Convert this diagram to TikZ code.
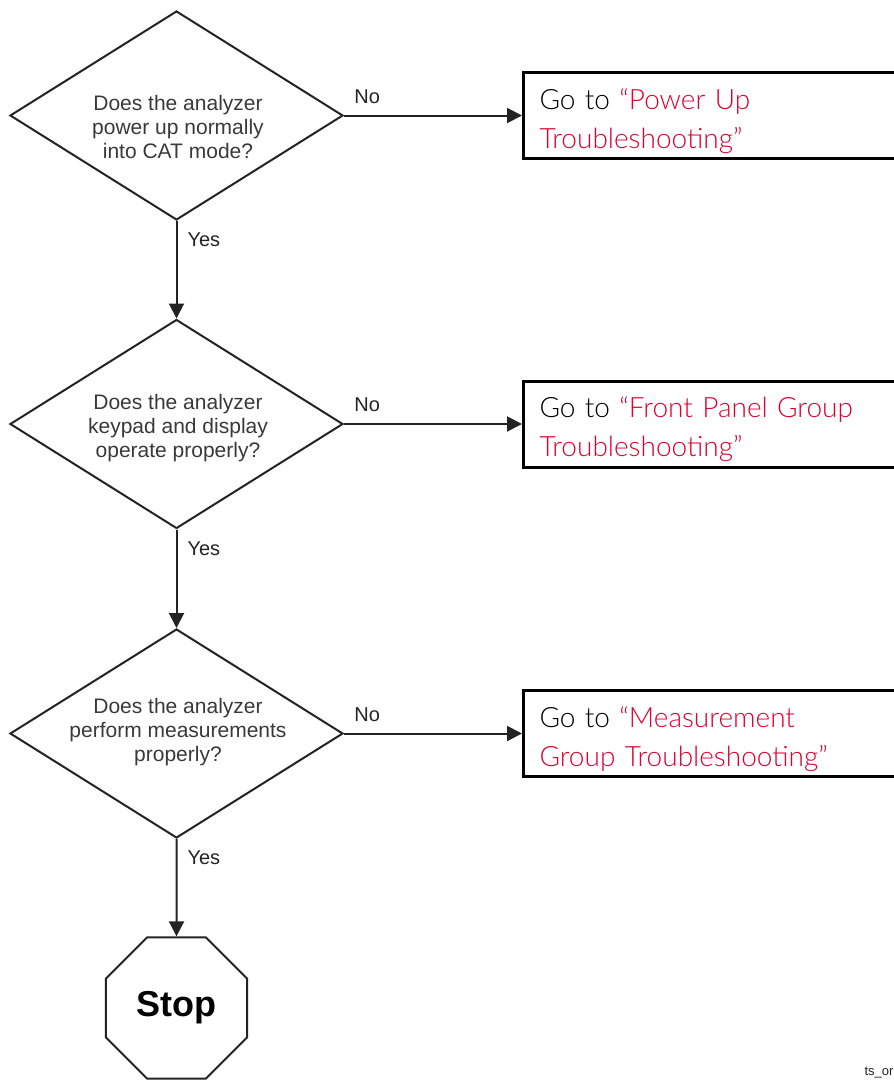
\documentclass[tikz,border=0pt]{standalone}
\usepackage{fontspec}
\setmainfont{Liberation Sans}
\newfontfamily\goFont{Lato Light}
\usetikzlibrary{positioning,shapes.geometric,arrows.meta}
\definecolor{linkred}{RGB}{222,0,45}
\definecolor{ink}{RGB}{35,35,35}
\tikzset{
	question/.style = {
		shape          = diamond,
		draw           = ink,
		line width     = 2pt,
		minimum width  = 333pt,
		minimum height = 209pt,
		aspect         = 1.6,
		inner sep      = 0pt
	},
	ask/.style = {
		align          = center,
		text           = ink!90,
		font           = \fontsize{21}{24}\selectfont
	},
	goto/.style = {
		draw           = black,
		line width     = 3pt,
		minimum height = 86pt,
		text width     = 362pt,
		inner xsep     = 16pt,
		align          = left,
		font           = \goFont\fontsize{28}{39}\selectfont
	},
	halt/.style = {
		regular polygon,
		regular polygon sides = 8,
		minimum size   = 153pt,
		draw           = ink,
		line width     = 2pt,
		inner sep      = 0pt,
		font           = \bfseries\fontsize{36}{40}\selectfont
	},
	flow/.style   = {draw = ink, line width = 2pt, -{Triangle[length=15pt, width=15pt]}},
	answer/.style = {text = ink, font = \fontsize{20}{22}\selectfont}
}
\begin{document}
\begin{tikzpicture}[x=1pt, y=-1pt]
	\useasboundingbox (0,0) rectangle (894,1080);
	% questions with their "No" exits
	\foreach [count=\i] \ypos/\drop/\ask/\gofirst/\gosecond in {
		115.5/11.5/{Does the analyzer\\power up normally\\into CAT mode?}/{Power Up}/{Troubleshooting},
		424/4/{Does the analyzer\\keypad and display\\operate properly?}/{Front Panel Group}/{Troubleshooting},
		733.5/-1.5/{Does the analyzer\\perform measurements\\properly?}/{Measurement}/{Group Troubleshooting}}
	{
		\node (q\i) [question, label = {[ask, yshift = -\drop pt, xshift = 1.5pt]center:\ask}] at (176.5,\ypos) {};
		\node (go\i) [goto, anchor = west] at (522,\ypos)
		{\rule{0pt}{32pt}Go to \textcolor{linkred}{“\gofirst}\\\textcolor{linkred}{\gosecond”}};
		\draw [flow] (q\i.east) -- node [pos = 0.13, above, inner sep = 11pt, answer] {No} (go\i.west);
	}
	\node (stop) [halt] at (176.5,1008) {Stop};
	% "Yes" path down to stop
	\foreach \from/\to in {q1/q2, q2/q3, q3/stop}
		\draw [flow] (\from.south) -- node [pos = 0.19, right, inner sep = 10pt, answer] {Yes} (\to.north);
	\node (tag) [anchor = base west, text = ink, font = \fontsize{13}{15}\selectfont] at (861,1075) {ts\_or};
\end{tikzpicture}
\end{document}
